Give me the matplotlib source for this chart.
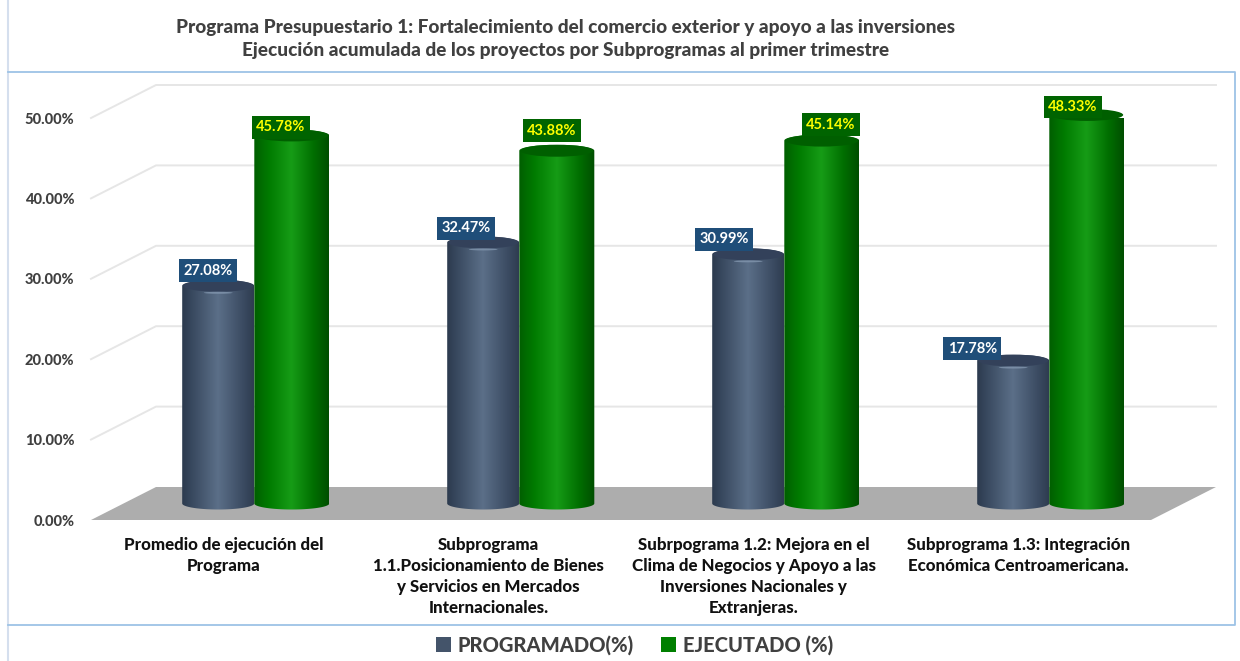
import numpy as np
import matplotlib
matplotlib.use("Agg")
import matplotlib.pyplot as plt
from matplotlib.colors import LinearSegmentedColormap
from matplotlib.patches import Ellipse, Patch, PathPatch, Polygon
from matplotlib.path import Path

plt.rcParams["font.family"] = ["Lato", "DejaVu Sans"]
plt.rcParams["font.weight"] = "black"

# data
categories = [
    "Promedio de ejecución del\nPrograma",
    "Subprograma\n1.1.Posicionamiento de Bienes\ny Servicios en Mercados\nInternacionales.",
    "Subrpograma 1.2: Mejora en el\nClima de Negocios y Apoyo a las\nInversiones Nacionales y\nExtranjeras.",
    "Subprograma 1.3: Integración\nEconómica Centroamericana.",
]
programado = [27.08, 32.47, 30.99, 17.78]
ejecutado = [45.78, 43.88, 45.14, 48.33]
y_ticks = [0, 10, 20, 30, 40, 50]

W, H = 1240, 661
fig = plt.figure(figsize=(W / 100, H / 100), dpi=100)
ax = fig.add_axes([91 / W, 1 - 520 / H, 1060 / W, 402 / H])
ax.set_xlim(-0.5, 3.5)
ax.set_ylim(0, 50)
for s in ax.spines.values():
    s.set_visible(False)

# px to data sizes
px_x = 4 / 1060
px_y = 50 / 402
depth_x = 65 * px_x
depth_y = 33 * px_y

# frame of the chart
fig.add_artist(plt.Line2D([7.5 / W, 7.5 / W], [0, 1], color="#D5DFEE", lw=1.5))
fig.add_artist(plt.Line2D([7.5 / W, 1235 / W, 1235 / W, 7.5 / W],
                          [1 - 71.5 / H, 1 - 71.5 / H, 1 - 624.5 / H, 1 - 624.5 / H],
                          color="#9DC3E6", lw=1.3))

# back wall lines
grid_col = "#E6E6E6"
for t in y_ticks[1:]:
    ax.plot([-0.5, -0.5 + depth_x, 3.5 + depth_x], [t, t + depth_y, t + depth_y],
            color=grid_col, lw=1.4, clip_on=False, zorder=1)

# floor
ax.add_patch(Polygon([(-0.5, 0), (-0.5 + depth_x, depth_y), (3.5 + depth_x, depth_y), (3.5, 0)],
                     closed=True, facecolor="#ADADAD", edgecolor="none", clip_on=False, zorder=2))

blue_cmap = LinearSegmentedColormap.from_list(
    "blue_cyl", [(0, "#2C3A4E"), (0.12, "#37475D"), (0.5, "#5B6F88"), (0.85, "#3B4B62"), (1, "#2E3C50")])
green_cmap = LinearSegmentedColormap.from_list(
    "green_cyl", [(0, "#005E00"), (0.2, "#007B00"), (0.5, "#169C16"), (0.8, "#006E00"), (1, "#004E00")])


def cylinder(x, val, width, cmap, top_col, z, round_edge=False):
    base = depth_y / 2
    top = val + base
    w2 = width / 2
    eh = 6.0 * px_y
    theta = np.linspace(0, np.pi, 40)
    # outline: bottom arc left to right, then top arc right to left
    xs = np.r_[x - w2 * np.cos(theta), x + w2 * np.cos(theta)]
    ys = np.r_[base - eh * np.sin(theta), top + eh * np.sin(theta)]
    patch = PathPatch(Path(np.column_stack([xs, ys])), facecolor="none", edgecolor="none", zorder=z)
    ax.add_patch(patch)
    grad = np.linspace(0, 1, 256).reshape(1, -1)
    im = ax.imshow(grad, extent=[x - w2, x + w2, base - eh, top + eh], aspect="auto",
                   cmap=cmap, zorder=z, interpolation="bilinear")
    im.set_clip_box(None)
    im.set_clip_path(patch)
    ax.add_patch(Ellipse((x, top), width * 0.97, 2 * eh, facecolor=top_col, edgecolor="none",
                         clip_on=False, zorder=z + 0.1))
    if round_edge:
        # soft highlight below the lid
        ax.add_patch(Ellipse((x, top - 7 * px_y), width * 0.4, 2 * px_y,
                             facecolor="#8296AE", edgecolor="none", alpha=0.8, zorder=z + 0.2))


bar_gap = 36.8 * px_x
group_shift = depth_x / 2 - 1 * px_x
for i in range(len(categories)):
    cx = i + group_shift
    cylinder(cx - bar_gap, programado[i], 72 * px_x, blue_cmap, "#33415A", 3, round_edge=True)
    cylinder(cx + bar_gap, ejecutado[i], 75 * px_x, green_cmap, "#005F00", 4)
ax.set_xlim(-0.5, 3.5)
ax.set_ylim(0, 50)

# data labels, offset from the top of each cylinder in pixels
blue_off = [(-10, 15), (-17, 14), (-24, 15), (-41, 12)]
green_off = [(-11, 8), (-5, 20), (9, 16), (-14, 8)]
lab_font = dict(fontsize=10.5, fontweight="bold", ha="center", va="center",
                textcoords="offset pixels", annotation_clip=False, zorder=6)
for i in range(len(categories)):
    cx = i + group_shift
    ax.annotate(f"{programado[i]:.2f}%", (cx - bar_gap, programado[i] + depth_y / 2),
                xytext=blue_off[i], color="white",
                bbox=dict(boxstyle="square,pad=0.3", fc="#1F4E79", ec="none"), **lab_font)
    ax.annotate(f"{ejecutado[i]:.2f}%", (cx + bar_gap, ejecutado[i] + depth_y / 2),
                xytext=green_off[i], color="#FFFF00",
                bbox=dict(boxstyle="square,pad=0.3", fc="#006400", ec="none"), **lab_font)

# axes text
ax.set_yticks(y_ticks)
ax.set_yticklabels([f"{t:.2f}%" for t in y_ticks], fontsize=10.5, fontweight="black", color="#404040")
ax.set_xticks(range(len(categories)))
ax.set_xticklabels(categories, fontsize=12.2, fontweight="black", color="#111111", linespacing=1.4, va="top")
ax.tick_params(axis="both", length=0)
ax.tick_params(axis="y", pad=12)
ax.tick_params(axis="x", pad=12)

# title
fig.text(566 / W, 1 - 39 / H,
         "Programa Presupuestario 1: Fortalecimiento del comercio exterior y apoyo a las inversiones\n"
         "Ejecución acumulada de los proyectos por Subprogramas al primer trimestre",
         ha="center", va="center", fontsize=13.65, fontweight="black", color="#404040", linespacing=1.38)

# legend
handles = [Patch(facecolor="#44546A", edgecolor="none", label="PROGRAMADO(%)"),
           Patch(facecolor="#007F00", edgecolor="none", label="EJECUTADO (%)")]
fig.legend(handles=handles, loc="center", bbox_to_anchor=(634.5 / W, 1 - 645 / H), ncol=2, frameon=False,
           prop=dict(size=14.5, weight="black"), labelcolor="#404040", handlelength=0.72, handleheight=0.72,
           handletextpad=0.35, columnspacing=1.35, borderpad=0)

fig.savefig("out.png", dpi=100, facecolor="white")
